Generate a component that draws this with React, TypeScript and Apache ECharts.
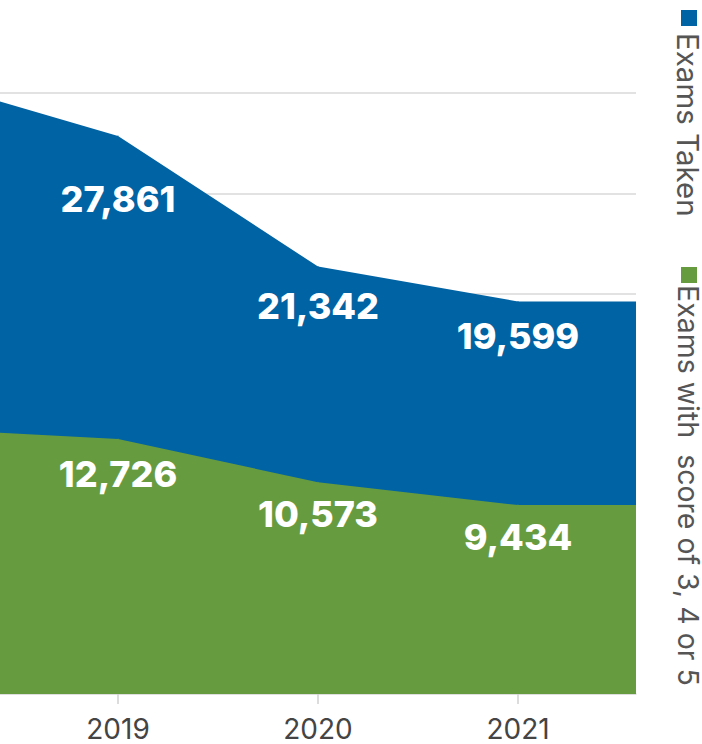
import React, { useEffect, useRef } from "react";
import * as echarts from "echarts";

// Years (2018 and 2022 fall outside the visible window and are clipped)
const years = [2018, 2019, 2020, 2021, 2022];
const labeledYears = [2019, 2020, 2021];
const examsTaken = [30780, 27861, 21342, 19599, 19599];
const examsScore345 = [13270, 12726, 10573, 9434, 9434];
const seriesNames = ["Exams Taken", "Exams with  score of 3, 4 or 5"];

// label vertical offsets (px) below each point, by year index
const takenLabelOffsets = [0, 63, 39, 35, 0];
const scoreLabelOffsets = [0, 35, 32, 32, 0];

const BLUE = "#0063a3";
const GREEN = "#679b40";
const SHIFT = 7; // chart canvas starts 7px above the page top

const fmt = (v: number) => v.toLocaleString("en-US");

function buildData(values: number[], offsets: number[]) {
  return years.map((y, i) => ({
    value: [y, values[i]],
    label: {
      show: labeledYears.includes(y),
      offset: [0, offsets[i]],
    },
  }));
}

export default function App() {
  const ref = useRef<HTMLDivElement>(null);

  useEffect(() => {
    if (!ref.current) return;
    const chart = echarts.init(ref.current, undefined, { renderer: "svg" });
    const labelBase = {
      show: false,
      position: "inside",
      color: "#ffffff",
      fontSize: 36,
      fontWeight: 800,
      fontFamily: "Inter, 'Open Sans', sans-serif",
      formatter: (p: any) => fmt(p.value[1]),
    };
    chart.setOption({
      animation: false,
      grid: { left: 0, right: 66, top: 0, bottom: 50, containLabel: false },
      xAxis: {
        type: "value",
        min: 2018.41,
        max: 2021.59,
        splitLine: { show: false },
        axisLine: { show: true, lineStyle: { color: "#dcdcdc", width: 1.5 } },
        axisTick: {
          show: true,
          customValues: labeledYears,
          length: 10,
          lineStyle: { color: "#d0d0d0", width: 1.5 },
        },
        axisLabel: {
          show: true,
          customValues: labeledYears,
          formatter: (v: number) => String(v),
          fontSize: 28,
          color: "#444444",
          fontFamily: "Inter, 'Open Sans', sans-serif",
          margin: 21,
        },
      },
      yAxis: {
        type: "value",
        min: 0,
        max: 35000,
        interval: 5000,
        axisLabel: { show: false },
        axisLine: { show: false },
        axisTick: { show: false },
        splitLine: { show: true, lineStyle: { color: "#e2e2e2", width: 2 } },
      },
      series: [
        {
          name: seriesNames[0],
          type: "line",
          data: buildData(examsTaken, takenLabelOffsets),
          symbol: "circle",
          symbolSize: 1,
          itemStyle: { color: BLUE },
          lineStyle: { width: 0, color: BLUE },
          areaStyle: { color: BLUE, opacity: 1 },
          label: labelBase,
          clip: true,
          z: 2,
        },
        {
          name: seriesNames[1],
          type: "line",
          data: buildData(examsScore345, scoreLabelOffsets),
          symbol: "circle",
          symbolSize: 1,
          itemStyle: { color: GREEN },
          lineStyle: { width: 0, color: GREEN },
          areaStyle: { color: GREEN, opacity: 1 },
          label: labelBase,
          clip: true,
          z: 3,
        },
      ],
      graphic: [
        {
          type: "rect",
          shape: { x: 681, y: 10 + SHIFT, width: 16, height: 16 },
          style: { fill: BLUE },
        },
        {
          type: "text",
          x: 688,
          y: 33 + SHIFT,
          rotation: -Math.PI / 2,
          style: {
            text: seriesNames[0],
            fontSize: 29.5,
            fontFamily: "Inter, 'Open Sans', sans-serif",
            fill: "#555555",
            align: "left",
            verticalAlign: "middle",
          },
        },
        {
          type: "rect",
          shape: { x: 681, y: 267 + SHIFT, width: 16, height: 16 },
          style: { fill: GREEN },
        },
        {
          type: "text",
          x: 688,
          y: 285 + SHIFT,
          rotation: -Math.PI / 2,
          style: {
            text: seriesNames[1],
            fontSize: 28.5,
            fontFamily: "Inter, 'Open Sans', sans-serif",
            fill: "#555555",
            align: "left",
            verticalAlign: "middle",
          },
        },
      ],
    });
    return () => chart.dispose();
  }, []);

  return (
    <div
      ref={ref}
      style={{
        position: "absolute",
        left: 0,
        top: -SHIFT,
        width: 702,
        height: 744 + SHIFT,
      }}
    />
  );
}
